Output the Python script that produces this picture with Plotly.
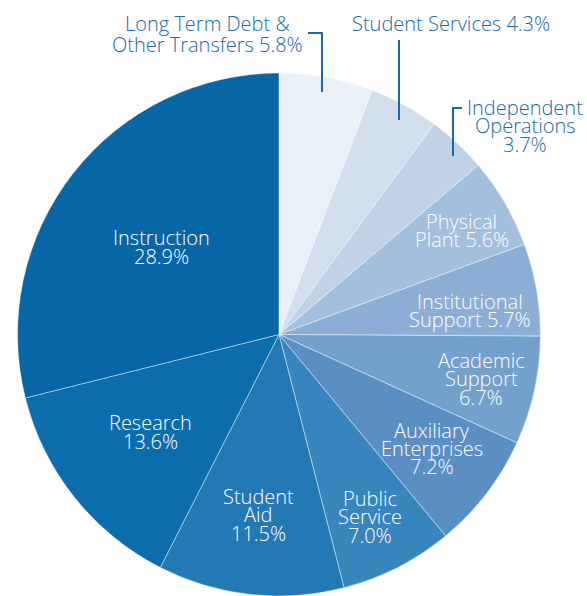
import plotly.graph_objects as go

# ---- data ----
categories = ["Long Term Debt & Other Transfers", "Student Services", "Independent Operations",
              "Physical Plant", "Institutional Support", "Academic Support", "Auxiliary Enterprises",
              "Public Service", "Student Aid", "Research", "Instruction"]
values = [5.8, 4.3, 3.7, 5.6, 5.7, 6.7, 7.2, 7.0, 11.5, 13.6, 28.9]
colors = ["#EAF0F8", "#D3DEED", "#C1D2E7", "#A4BEDD", "#8CAED6", "#74A0CC",
          "#5B8EC3", "#3884BD", "#2379B3", "#0C6DAC", "#0766A5"]
# label text lines (percentage appended to last line)
label_lines = [["Long Term Debt &", "Other Transfers"], ["Student Services"], ["Independent", "Operations", ""],
               ["Physical", "Plant"], ["Institutional", "Support"], ["Academic", "Support", ""],
               ["Auxiliary", "Enterprises", ""], ["Public", "Service", ""], ["Student", "Aid", ""],
               ["Research", ""], ["Instruction", ""]]

W, H = 587, 596
# layout: label centres of first line (px from top-left), line pitch
label_pos = [(207, 23, 21.5), (451, 23, 21), (525, 107, 18.5), (462, 221, 18.5), (470, 301, 18.5),
             (481, 360, 18.5), (432, 430, 18.5), (370, 498, 18.5), (258, 496, 18.5), (150, 422, 19),
             (161, 237, 19)]
outside = {0, 1, 2}
BLUE = "#1A69A8"
FONT = "Open Sans"
FS = 20

fig = go.Figure(go.Pie(
    labels=categories, values=values, sort=False, direction="clockwise", rotation=0,
    marker=dict(colors=colors, line=dict(color="rgba(255,255,255,0.55)", width=0.8)),
    textinfo="none", hoverinfo="label+percent", showlegend=False,
    domain=dict(x=[(279 - 261.5) / W, (279 + 261.5) / W], y=[0, 1 - 73 / H]),
))

ann = []
for i, lines in enumerate(label_lines):
    lines = list(lines)
    pct = f"{values[i]:.1f}%"
    lines[-1] = (lines[-1] + " " + pct).strip()
    cx, cy, dy = label_pos[i]
    col = BLUE if i in outside else "white"
    for k, ln in enumerate(lines):
        ann.append(dict(x=cx / W, y=1 - (cy + k * dy) / H, xref="paper", yref="paper",
                        text=ln, showarrow=False, xanchor="center", yanchor="middle",
                        font=dict(family=FONT, size=FS, color=col, weight=300)))

def P(x, y):
    return f"{x / W:.5f},{1 - y / H:.5f}"

shapes = []
for pts in [[(308, 33), (322, 33), (322, 92)], [(399, 40), (399, 120)], [(462, 108), (453, 108), (453, 156)]]:
    path = "M " + " L ".join(P(x, y) for x, y in pts)
    shapes.append(dict(type="path", path=path, xref="paper", yref="paper",
                       line=dict(color=BLUE, width=2)))

fig.update_layout(width=W, height=H, margin=dict(l=0, r=0, t=0, b=0),
                  paper_bgcolor="white", plot_bgcolor="white",
                  annotations=ann, shapes=shapes)
fig.write_html("out.html", config={"displayModeBar": False},
               post_script="document.body.style.margin='0';document.body.style.overflow='hidden';")
